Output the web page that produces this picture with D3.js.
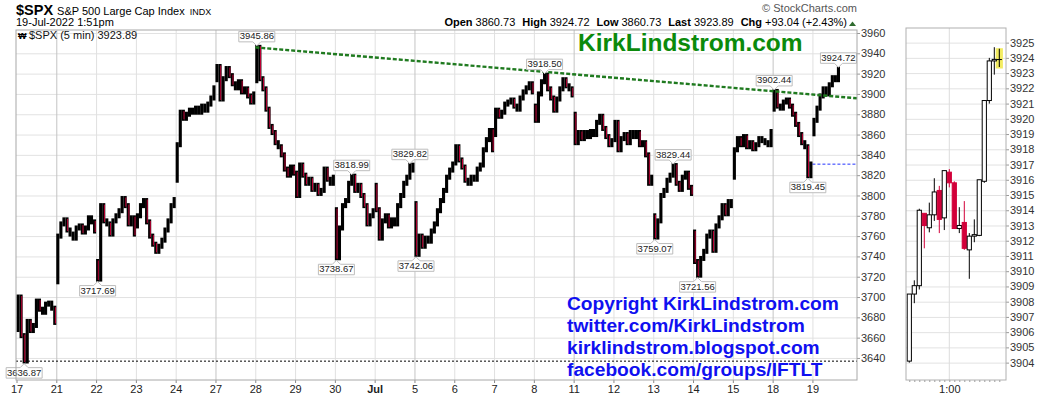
<!DOCTYPE html>
<html>
<head>
<meta charset="utf-8">
<script src="https://cdn.jsdelivr.net/npm/d3@7"></script>
<style>
body{margin:0;background:#fff;}
svg{display:block;font-family:"Liberation Sans",Arial,sans-serif;}
</style>
</head>
<body>
<div id="demo"></div>
<script>

// trading days on the x axis
var days = ["17","21","22","23","24","27","28","29","30","Jul","5","6","7","8","11","12","13","14","15","18","19"];
// first trading day of each week (darker grid line)
var weekStart = [1, 5, 10, 14, 19];

// price every half hour for each day : open, then 13 half-hour closes
var p0617 = [3668, 3700, 3662, 3637, 3676, 3667, 3672, 3696, 3688, 3685, 3693, 3694, 3689, 3675];
var p0621 = [3715, 3760, 3772, 3776, 3766, 3762, 3758, 3768, 3770, 3764, 3768, 3778, 3774, 3765];
var p0622 = [3735, 3717.69, 3790, 3775, 3772, 3762, 3775, 3780, 3785, 3797, 3790, 3772, 3778, 3762];
var p0623 = [3770, 3780, 3790, 3795, 3774, 3760, 3752, 3745, 3750, 3756, 3766, 3775, 3790, 3796];
var p0624 = [3815, 3850, 3882, 3876, 3880, 3884, 3882, 3886, 3882, 3888, 3884, 3890, 3896, 3906];
var p0627 = [3914, 3927, 3895, 3915, 3925, 3918, 3910, 3906, 3912, 3902, 3905, 3898, 3892, 3900];
var p0628 = [3913, 3945.86, 3915, 3905, 3885, 3868, 3862, 3852, 3848, 3840, 3826, 3820, 3828, 3822];
var p0629 = [3822, 3800, 3830, 3820, 3812, 3816, 3806, 3810, 3802, 3805, 3826, 3816, 3812, 3818];
var p0630 = [3786, 3738.67, 3768, 3790, 3795, 3812, 3818.99, 3805, 3810, 3800, 3790, 3772, 3780, 3785];
var p0701 = [3810, 3786, 3758, 3775, 3780, 3770, 3776, 3772, 3790, 3800, 3812, 3818, 3829.82, 3825];
var p0705 = [3792, 3742.06, 3760, 3750, 3758, 3755, 3765, 3772, 3785, 3795, 3805, 3818, 3825, 3831];
var p0706 = [3832, 3848, 3835, 3828, 3815, 3812, 3818, 3816, 3826, 3830, 3845, 3855, 3864, 3845];
var p0707 = [3860, 3884, 3878, 3882, 3890, 3892, 3894, 3888, 3885, 3896, 3902, 3906, 3910, 3902];
var p0708 = [3888, 3874, 3900, 3912, 3918.5, 3905, 3896, 3884, 3895, 3905, 3914, 3908, 3905, 3899];
var p0711 = [3880, 3852, 3862, 3856, 3862, 3858, 3863, 3860, 3872, 3878, 3866, 3858, 3850, 3854];
var p0712 = [3855, 3872, 3845, 3856, 3860, 3852, 3862, 3858, 3862, 3850, 3852, 3840, 3812, 3818];
var p0713 = [3780, 3759.07, 3775, 3800, 3805, 3815, 3820, 3829.44, 3812, 3806, 3818, 3822, 3808, 3802];
var p0714 = [3764, 3735, 3721.56, 3738, 3745, 3760, 3764, 3746, 3770, 3778, 3790, 3782, 3794, 3790];
var p0715 = [3818, 3845, 3856, 3850, 3858, 3848, 3852, 3846, 3850, 3856, 3854, 3852, 3850, 3863];
var p0718 = [3885, 3902.44, 3888, 3886, 3892, 3894, 3888, 3880, 3870, 3860, 3852, 3848, 3819.45, 3831];
var p0719 = [3860.73, 3874, 3886, 3898, 3905, 3900, 3909, 3916, 3914, 3924.72];

var dayPrices = [p0617, p0621, p0622, p0623, p0624, p0627, p0628, p0629, p0630, p0701, p0705,
	p0706, p0707, p0708, p0711, p0712, p0713, p0714, p0715, p0718, p0719];

// labelled highs and lows : day index, half-hour bar, value, above or below
var notes = [
	{day:0,  k:3,  v:3636.87, up:false},
	{day:2,  k:1,  v:3717.69, up:false},
	{day:6,  k:1,  v:3945.86, up:true},
	{day:8,  k:1,  v:3738.67, up:false},
	{day:8,  k:6,  v:3818.99, up:true},
	{day:9,  k:12, v:3829.82, up:true},
	{day:10, k:1,  v:3742.06, up:false},
	{day:13, k:4,  v:3918.50, up:true},
	{day:16, k:1,  v:3759.07, up:false},
	{day:16, k:7,  v:3829.44, up:true},
	{day:17, k:2,  v:3721.56, up:false},
	{day:19, k:1,  v:3902.44, up:true},
	{day:19, k:12, v:3819.45, up:false},
	{day:20, k:9,  v:3924.72, up:true}
];

var yTicks = d3.range(3640, 3961, 20);
var periodLow = 3636.87;
var prevClose = 3830.85;
// trend line: [day, price]
var trend = [[6, 3945.86], [21.12, 3895.7]];

// right panel: last 19 five-minute candles
var miniTimes = ["12:20","12:25","12:30","12:35","12:40","12:45","12:50","12:55","13:00","13:05",
	"13:10","13:15","13:20","13:25","13:30","13:35","13:40","13:45","13:50"];
var miniOpen  = [3904.1, 3908.5, 3909.05, 3913.8, 3912.85, 3913.7, 3915.3, 3913.5, 3916.5, 3915.8,
	3912.8, 3913.2, 3911.4, 3912.3, 3912.35, 3915.9, 3921.2, 3923.8, 3923.89];
var miniHigh  = [3908.5, 3909.4, 3914.1, 3913.8, 3914.5, 3916.1, 3915.6, 3916.6, 3916.7, 3915.9,
	3914.2, 3914.6, 3912.5, 3913.4, 3916.0, 3921.2, 3924.0, 3924.7, 3924.6];
var miniLow   = [3904.0, 3907.9, 3908.8, 3911.5, 3912.55, 3913.3, 3912.5, 3912.7, 3915.5, 3912.8,
	3912.5, 3911.4, 3909.5, 3911.9, 3912.3, 3915.8, 3921.0, 3922.9, 3923.4];
var miniClose = [3908.5, 3909.05, 3914.0, 3913.0, 3913.7, 3915.2, 3913.4, 3916.6, 3915.8, 3912.8,
	3913.0, 3911.5, 3912.3, 3912.4, 3916.0, 3921.2, 3923.8, 3923.9, 3923.89];
var miniTicks = d3.range(3904, 3926, 1);

var RED = "#d2003a";

var svg = d3.select("#demo").append("svg")
	.attr("width", 1050)
	.attr("height", 396);

var L = 16, R = 857, T = 30, B = 380;

var x = d3.scaleLinear().domain([0, 21.12]).range([16.5, R]);
var y = d3.scaleLinear().domain([3618.3, 3962.95]).range([B, T]);

// ---- header ----
var head = svg.append("text").attr("x", 16).attr("y", 15).attr("fill", "#000");
head.append("tspan").attr("font-weight", "bold").attr("font-size", 14.5).text("$SPX");
head.append("tspan").attr("font-size", 11).attr("dx", 4).text("S&P 500 Large Cap Index");
head.append("tspan").attr("font-size", 9).attr("dx", 5).text("INDX");

svg.append("text").attr("x", 16).attr("y", 26).attr("font-size", 11).text("19-Jul-2022 1:51pm");

svg.append("text").attr("x", R).attr("y", 12).attr("text-anchor", "end")
	.attr("font-size", 11).attr("fill", "#555").text("\u00a9 StockCharts.com");

var quote = [["Open", "3860.73"], ["High", "3924.72"], ["Low", "3860.73"], ["Last", "3923.89"], ["Chg", "+93.04 (+2.43%)"]];
var qt = svg.append("text").attr("x", 847).attr("y", 26).attr("text-anchor", "end").attr("font-size", 11);
quote.forEach(function(q, i) {
	qt.append("tspan").attr("font-weight", "bold").attr("dx", i ? 7 : 0).text(q[0]);
	qt.append("tspan").attr("dx", 3).text(q[1]);
});
svg.append("path").attr("d", "M849,26 L852.5,21.5 L856,26 Z").attr("fill", "#2e6b2e");

// ---- main panel ----
svg.append("rect").attr("x", L).attr("y", T).attr("width", R - L).attr("height", B - T).attr("fill", "#fff");

// horizontal grid
svg.append("g")
	.attr("transform", "translate(" + L + ",0)")
	.call(d3.axisRight(y).tickValues(yTicks).tickSize(R - L).tickFormat(""))
	.call(function(g) { g.select(".domain").remove(); })
	.selectAll("line").attr("stroke", "#e2e2e2");

// vertical grid
svg.append("g")
	.attr("transform", "translate(0," + B + ")")
	.call(d3.axisBottom(x).tickValues(d3.range(1, 21)).tickSize(-(B - T)).tickFormat(""))
	.call(function(g) { g.select(".domain").remove(); })
	.selectAll("line")
	.attr("stroke", function(d) { return weekStart.indexOf(d) >= 0 ? "#c4c4c4" : "#e0e0e0"; });

// y axis on the right
var yAxis = svg.append("g")
	.attr("transform", "translate(" + R + ",0)")
	.call(d3.axisRight(y).tickValues(yTicks).tickSize(3).tickPadding(1).tickFormat(d3.format("d")));
yAxis.select(".domain").remove();
yAxis.selectAll("line").attr("stroke", "#999");
yAxis.selectAll("text").attr("font-size", 11).attr("font-family", "Liberation Sans, Arial, sans-serif").attr("fill", "#333");

// x axis
var xAxis = svg.append("g")
	.attr("transform", "translate(0," + B + ")")
	.call(d3.axisBottom(x).tickValues(d3.range(21)).tickSize(3).tickPadding(2)
		.tickFormat(function(i) { return days[i]; }));
xAxis.select(".domain").remove();
xAxis.selectAll("line").attr("stroke", "#888");
xAxis.selectAll("text").attr("font-size", 11).attr("font-family", "Liberation Sans, Arial, sans-serif").attr("fill", "#222")
	.attr("font-weight", function(i) { return days[i] === "Jul" ? "bold" : "normal"; });

// reference lines
svg.append("line")
	.attr("x1", L).attr("x2", R).attr("y1", y(periodLow)).attr("y2", y(periodLow))
	.attr("stroke", "#000").attr("stroke-width", 1).attr("stroke-dasharray", "2,2");

svg.append("line")
	.attr("x1", x(20)).attr("x2", R).attr("y1", y(prevClose)).attr("y2", y(prevClose))
	.attr("stroke", "#2233ff").attr("stroke-width", 1).attr("stroke-dasharray", "3,2");

// price bars (half-hour)
var bars = [];
dayPrices.forEach(function(p, di) {
	for (var k = 1; k < p.length; k++) {
		bars.push({day: di, k: k, o: p[k - 1], c: p[k]});
	}
});
function barX(d) { return x(d.day + (d.k - 0.5) / 13); }

var bg = svg.append("g");
bg.selectAll("rect.bar")
	.data(bars)
	.enter()
	.append("rect")
	.attr("class", "bar")
	.attr("x", function(d) { return barX(d) - 1.55; })
	.attr("width", 3.1)
	.attr("y", function(d) { return y(Math.max(d.o, d.c)) - 2.5; })
	.attr("height", function(d) { return Math.abs(y(d.o) - y(d.c)) + 5; })
	.attr("fill", "#000");

bg.selectAll("rect.red")
	.data(bars.filter(function(d) { return d.c < d.o - 5; }))
	.enter()
	.append("rect")
	.attr("class", "red")
	.attr("x", function(d) { return barX(d) + 0.2; })
	.attr("width", 0.9)
	.attr("y", function(d) { return y(d.o) - 1; })
	.attr("height", function(d) { return Math.abs(y(d.o) - y(d.c)) + 2; })
	.attr("fill", RED);

// trend line
svg.append("line")
	.attr("x1", x(trend[0][0])).attr("y1", y(trend[0][1]))
	.attr("x2", x(trend[1][0])).attr("y2", y(trend[1][1]))
	.attr("stroke", "#1f7a1f").attr("stroke-width", 2.4).attr("stroke-dasharray", "4,2");

// value labels
var ng = svg.append("g").selectAll("g")
	.data(notes)
	.enter()
	.append("g");

ng.append("path")
	.attr("d", function(d) {
		var cx = x(d.day + (d.k - 0.5) / 13), py = y(d.v);
		if (d.up) {
			var by = py - 5.5 - 10.5;
			return "M" + (cx - 18) + "," + by + "h36v10.5h-14l-4,4l-4,-4h-14z";
		}
		var ty = py + 6.5;
		return "M" + (cx - 18) + "," + ty + "h14l4,-4l4,4h14v10.5h-36z";
	})
	.attr("fill", "#fff")
	.attr("stroke", "#bdbdbd")
	.attr("stroke-width", 1);

ng.append("text")
	.attr("x", function(d) { return x(d.day + (d.k - 0.5) / 13); })
	.attr("y", function(d) { return d.up ? y(d.v) - 8 : y(d.v) + 14.5; })
	.attr("text-anchor", "middle")
	.attr("font-size", 9.5)
	.attr("fill", "#222")
	.text(function(d) { return d.v.toFixed(2); });

// panel frame
svg.append("rect").attr("x", L).attr("y", T).attr("width", R - L).attr("height", B - T)
	.attr("fill", "none").attr("stroke", "#a8a8a8");

// legend inside the panel
svg.append("text").attr("x", 18).attr("y", 39).attr("font-size", 9).attr("font-weight", "bold").text("\u20a9");
svg.append("text").attr("x", 29).attr("y", 39).attr("font-size", 11).attr("fill", "#111").text("$SPX (5 min) 3923.89");

// watermark texts
svg.append("text").attr("x", 578).attr("y", 51)
	.attr("font-size", 24.5).attr("font-weight", "bold").attr("fill", "#0b8a0b")
	.text("KirkLindstrom.com");

var lines = ["Copyright KirkLindstrom.com", "twitter.com/KirkLindstrom", "kirklindstrom.blogspot.com", "facebook.com/groups/IFTLT"];
svg.append("g").selectAll("text")
	.data(lines)
	.enter()
	.append("text")
	.attr("x", 567)
	.attr("y", function(d, i) { return 310 + i * 22; })
	.attr("font-size", 19.2)
	.attr("font-weight", "bold")
	.attr("fill", "#1010f0")
	.text(function(d) { return d; });

// ---- right panel ----
var mL = 906, mR = 1006;
var x2 = d3.scaleLinear().domain([0, 18]).range([909.3, 999.3]);
var y2 = d3.scaleLinear().domain([3902.86, 3925.96]).range([B, 28]);

svg.append("rect").attr("x", mL).attr("y", 28).attr("width", mR - mL).attr("height", B - 28).attr("fill", "#fff");

svg.append("g")
	.attr("transform", "translate(" + mL + ",0)")
	.call(d3.axisRight(y2).tickValues(miniTicks).tickSize(mR - mL).tickFormat(""))
	.call(function(g) { g.select(".domain").remove(); })
	.selectAll("line").attr("stroke", "#e2e2e2");

svg.append("line").attr("x1", x2(8)).attr("x2", x2(8)).attr("y1", 28).attr("y2", B).attr("stroke", "#dcdcdc");

var y2Axis = svg.append("g")
	.attr("transform", "translate(" + mR + ",0)")
	.call(d3.axisRight(y2).tickValues(miniTicks).tickSize(3).tickPadding(1).tickFormat(d3.format("d")));
y2Axis.select(".domain").remove();
y2Axis.selectAll("line").attr("stroke", "#999");
y2Axis.selectAll("text").attr("font-size", 11).attr("font-family", "Liberation Sans, Arial, sans-serif").attr("fill", "#333");

// small ticks under every candle, label on the hour
var x2Axis = svg.append("g")
	.attr("transform", "translate(0," + B + ")")
	.call(d3.axisBottom(x2).tickValues(d3.range(0, 19)).tickSize(2).tickPadding(3)
		.tickFormat(function(i) {
			var t = miniTimes[i].split(":");
			return t[1] === "00" ? ((+t[0] % 12) || 12) + ":00" : "";
		}));
x2Axis.select(".domain").remove();
x2Axis.selectAll("line").attr("stroke", "#999");
x2Axis.selectAll("text").attr("font-size", 11).attr("font-family", "Liberation Sans, Arial, sans-serif").attr("fill", "#222");

// highlight of the last candle
var last = miniClose.length - 1;
svg.append("rect")
	.attr("x", x2(last) - 3.6).attr("width", 7.2)
	.attr("y", y2(miniHigh[last]) - 0.5).attr("height", y2(miniLow[last]) - y2(miniHigh[last]) + 2)
	.attr("fill", "#f3ec62");

var candles = miniOpen.map(function(o, i) {
	return {i: i, o: o, h: miniHigh[i], l: miniLow[i], c: miniClose[i]};
});
var cg = svg.append("g").selectAll("g")
	.data(candles)
	.enter()
	.append("g");

cg.append("line")
	.attr("x1", function(d) { return x2(d.i); })
	.attr("x2", function(d) { return x2(d.i); })
	.attr("y1", function(d) { return y2(d.h); })
	.attr("y2", function(d) { return y2(d.l); })
	.attr("stroke", function(d) { return d.c < d.o ? RED : "#000"; })
	.attr("stroke-width", 1);

cg.append("rect")
	.attr("x", function(d) { return x2(d.i) - 2.1; })
	.attr("width", 4.2)
	.attr("y", function(d) { return y2(Math.max(d.o, d.c)); })
	.attr("height", function(d) { return Math.max(0.01, Math.abs(y2(d.o) - y2(d.c))); })
	.attr("fill", function(d) { return d.c < d.o ? RED : "#fff"; })
	.attr("stroke", function(d) { return d.c < d.o ? RED : "#000"; })
	.attr("stroke-width", 1);

svg.append("rect").attr("x", mL).attr("y", 28).attr("width", mR - mL).attr("height", B - 28)
	.attr("fill", "none").attr("stroke", "#b0b0b0");

</script>
</body>
</html>
